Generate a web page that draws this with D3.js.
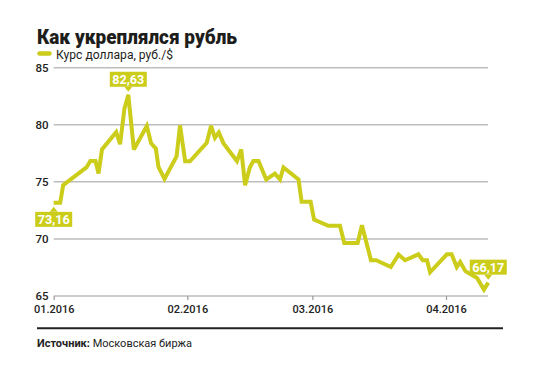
<!DOCTYPE html>
<html><head><meta charset="utf-8">
<script src="https://cdn.jsdelivr.net/npm/d3@7/dist/d3.min.js"></script>
<style>
html,body{margin:0;padding:0;background:#fff;}
svg{display:block;font-family:Roboto,"Noto Sans",sans-serif;}
</style></head>
<body><svg id="c" width="540" height="379"></svg>
<script>
// day offsets from 01.01.2016
const days = [0,1.5,2.2,7.6,8.5,9.7,10.4,11.2,14.5,15.4,16.4,17.3,18.6,21.6,22.6,23.7,24.3,25.7,28.5,29.3,30.5,31.6,
  35.5,36.5,37.4,38.3,39.4,42.5,43.5,44.4,45.5,46.3,47.5,49.3,51.3,52.5,53.3,56.8,57.5,59.6,60.4,63.7,66.4,67.4,70.5,
  71.5,73.6,74.8,78.2,80.0,81.5,84.6,85.6,86.6,87.3,91.2,92.3,93.5,94.3,95.5,98.2,99.8,100.8];
const values = [73.16,73.16,74.71,76.26,76.82,76.82,75.74,77.84,79.35,78.3,81.4,82.63,77.84,79.89,78.37,77.9,76.3,75.25,77.22,79.95,76.8,76.8,
  78.42,79.91,78.86,79.33,78.37,76.82,77.84,74.71,76.26,76.82,76.82,75.21,75.72,75.21,76.26,75.21,73.25,73.25,71.7,71.15,71.15,69.65,69.65,
  71.2,68.13,68.13,67.54,68.63,68.13,68.65,68.13,68.13,67.08,68.65,68.65,67.54,67.98,67.18,66.58,65.56,66.17];
const yTicks = [65,70,75,80,85];
const monthTicks = ["2016-01-01","2016-02-01","2016-03-01","2016-04-01"];
const monthLabels = ["01.2016","02.2016","03.2016","04.2016"];
const title = "Как укреплялся рубль";
const legendLabel = "Курс доллара, руб./$";
const sourceBold = "Источник:";
const sourceText = " Московская биржа";
const labelIdx = [0, 11, values.length-1];
const labelSide = ["below","above","above"];

const color = "#cbcd1a";
const t0 = Date.UTC(2016,0,1);
const dates = days.map(d => new Date(t0 + d*864e5));
const data = dates.map((d,i)=>({date:d, v:values[i]}));

const svg = d3.select("#c");
const x = d3.scaleUtc().domain([new Date(t0), new Date(Date.UTC(2016,3,1))]).range([53.7, 446]);
const y = d3.scaleLinear().domain([65,85]).range([296, 67.7]);
const xEnd = 488;

// title
svg.append("text").attr("x",37).attr("y",44).attr("font-size",19.5).attr("font-weight",900)
  .attr("fill","#1d1d1b").attr("textLength",200).attr("lengthAdjust","spacingAndGlyphs").text(title);
// legend
svg.append("line").attr("x1",39.5).attr("x2",49.5).attr("y1",53.5).attr("y2",53.5)
  .attr("stroke",color).attr("stroke-width",4.5).attr("stroke-linecap","round");
svg.append("text").attr("x",56).attr("y",58.5).attr("font-size",12).attr("fill","#1d1d1b")
  .attr("textLength",117).attr("lengthAdjust","spacingAndGlyphs").text(legendLabel);

// grid
const g = svg.append("g");
g.selectAll("line.grid").data(yTicks.filter(t=>t>65)).join("line")
  .attr("x1",x.range()[0]).attr("x2",xEnd).attr("y1",d=>y(d)).attr("y2",d=>y(d))
  .attr("stroke","#bdbdbd").attr("stroke-width",1.5);
g.selectAll("text.yl").data(yTicks).join("text")
  .attr("x",48.5).attr("y",d=>y(d)+4).attr("text-anchor","end").attr("font-size",11.5).attr("font-weight",500)
  .attr("fill","#222").text(d=>d);

// x axis
const xa = d3.axisBottom(x).tickValues(monthTicks.map(s=>new Date(s+"T00:00:00Z")))
  .tickFormat((d,i)=>monthLabels[i]).tickSize(4).tickSizeOuter(0);
const ax = svg.append("g").attr("transform",`translate(0,${y(65)})`).call(xa);
ax.select(".domain").attr("d",`M${x.range()[0]},0H${xEnd}`).attr("stroke","#9a9a9a").attr("stroke-width",1.2);
ax.selectAll(".tick line").attr("stroke","#9a9a9a").attr("stroke-width",1.2);
ax.selectAll(".tick text").attr("font-size",11).attr("font-weight",500).attr("fill","#222")
  .attr("font-family","Roboto,sans-serif").attr("dy",0).attr("y",16.5);

// line
const line = d3.line().x(d=>x(d.date)).y(d=>y(d.v));
svg.append("path").datum(data).attr("d",line).attr("fill","none")
  .attr("stroke",color).attr("stroke-width",4).attr("stroke-linejoin","miter").attr("stroke-miterlimit",3);

// labels
const fmt = v => d3.format(".2f")(v).replace(".",",");
labelIdx.forEach((idx,k)=>{
  const d = data[idx];
  const px = x(d.date), py = y(d.v);
  const w = 37, h = 15;
  const lg = svg.append("g");
  let by, tri;
  if (labelSide[k]==="above"){
    by = py - 8 - h;
    tri = `M${px-4},${by+h}L${px+4},${by+h}L${px},${by+h+5}Z`;
  } else {
    by = py + 9;
    tri = `M${px-4},${by}L${px+4},${by}L${px},${by-5}Z`;
  }
  lg.append("rect").attr("x",px-w/2).attr("y",by).attr("width",w).attr("height",h).attr("fill",color);
  lg.append("path").attr("d",tri).attr("fill",color);
  lg.append("text").attr("x",px).attr("y",by+12).attr("text-anchor","middle").attr("font-size",13)
    .attr("font-weight",700).attr("fill","#fff").attr("textLength",32).attr("lengthAdjust","spacingAndGlyphs").text(fmt(d.v));
});

// bottom rule & source
svg.append("line").attr("x1",37).attr("x2",503).attr("y1",328.3).attr("y2",328.3).attr("stroke","#222").attr("stroke-width",2);
const st = svg.append("text").attr("x",37).attr("y",346.5).attr("font-size",11).attr("fill","#222");
st.append("tspan").attr("font-weight",700).text(sourceBold);
st.append("tspan").text(sourceText);
</script></body></html>
